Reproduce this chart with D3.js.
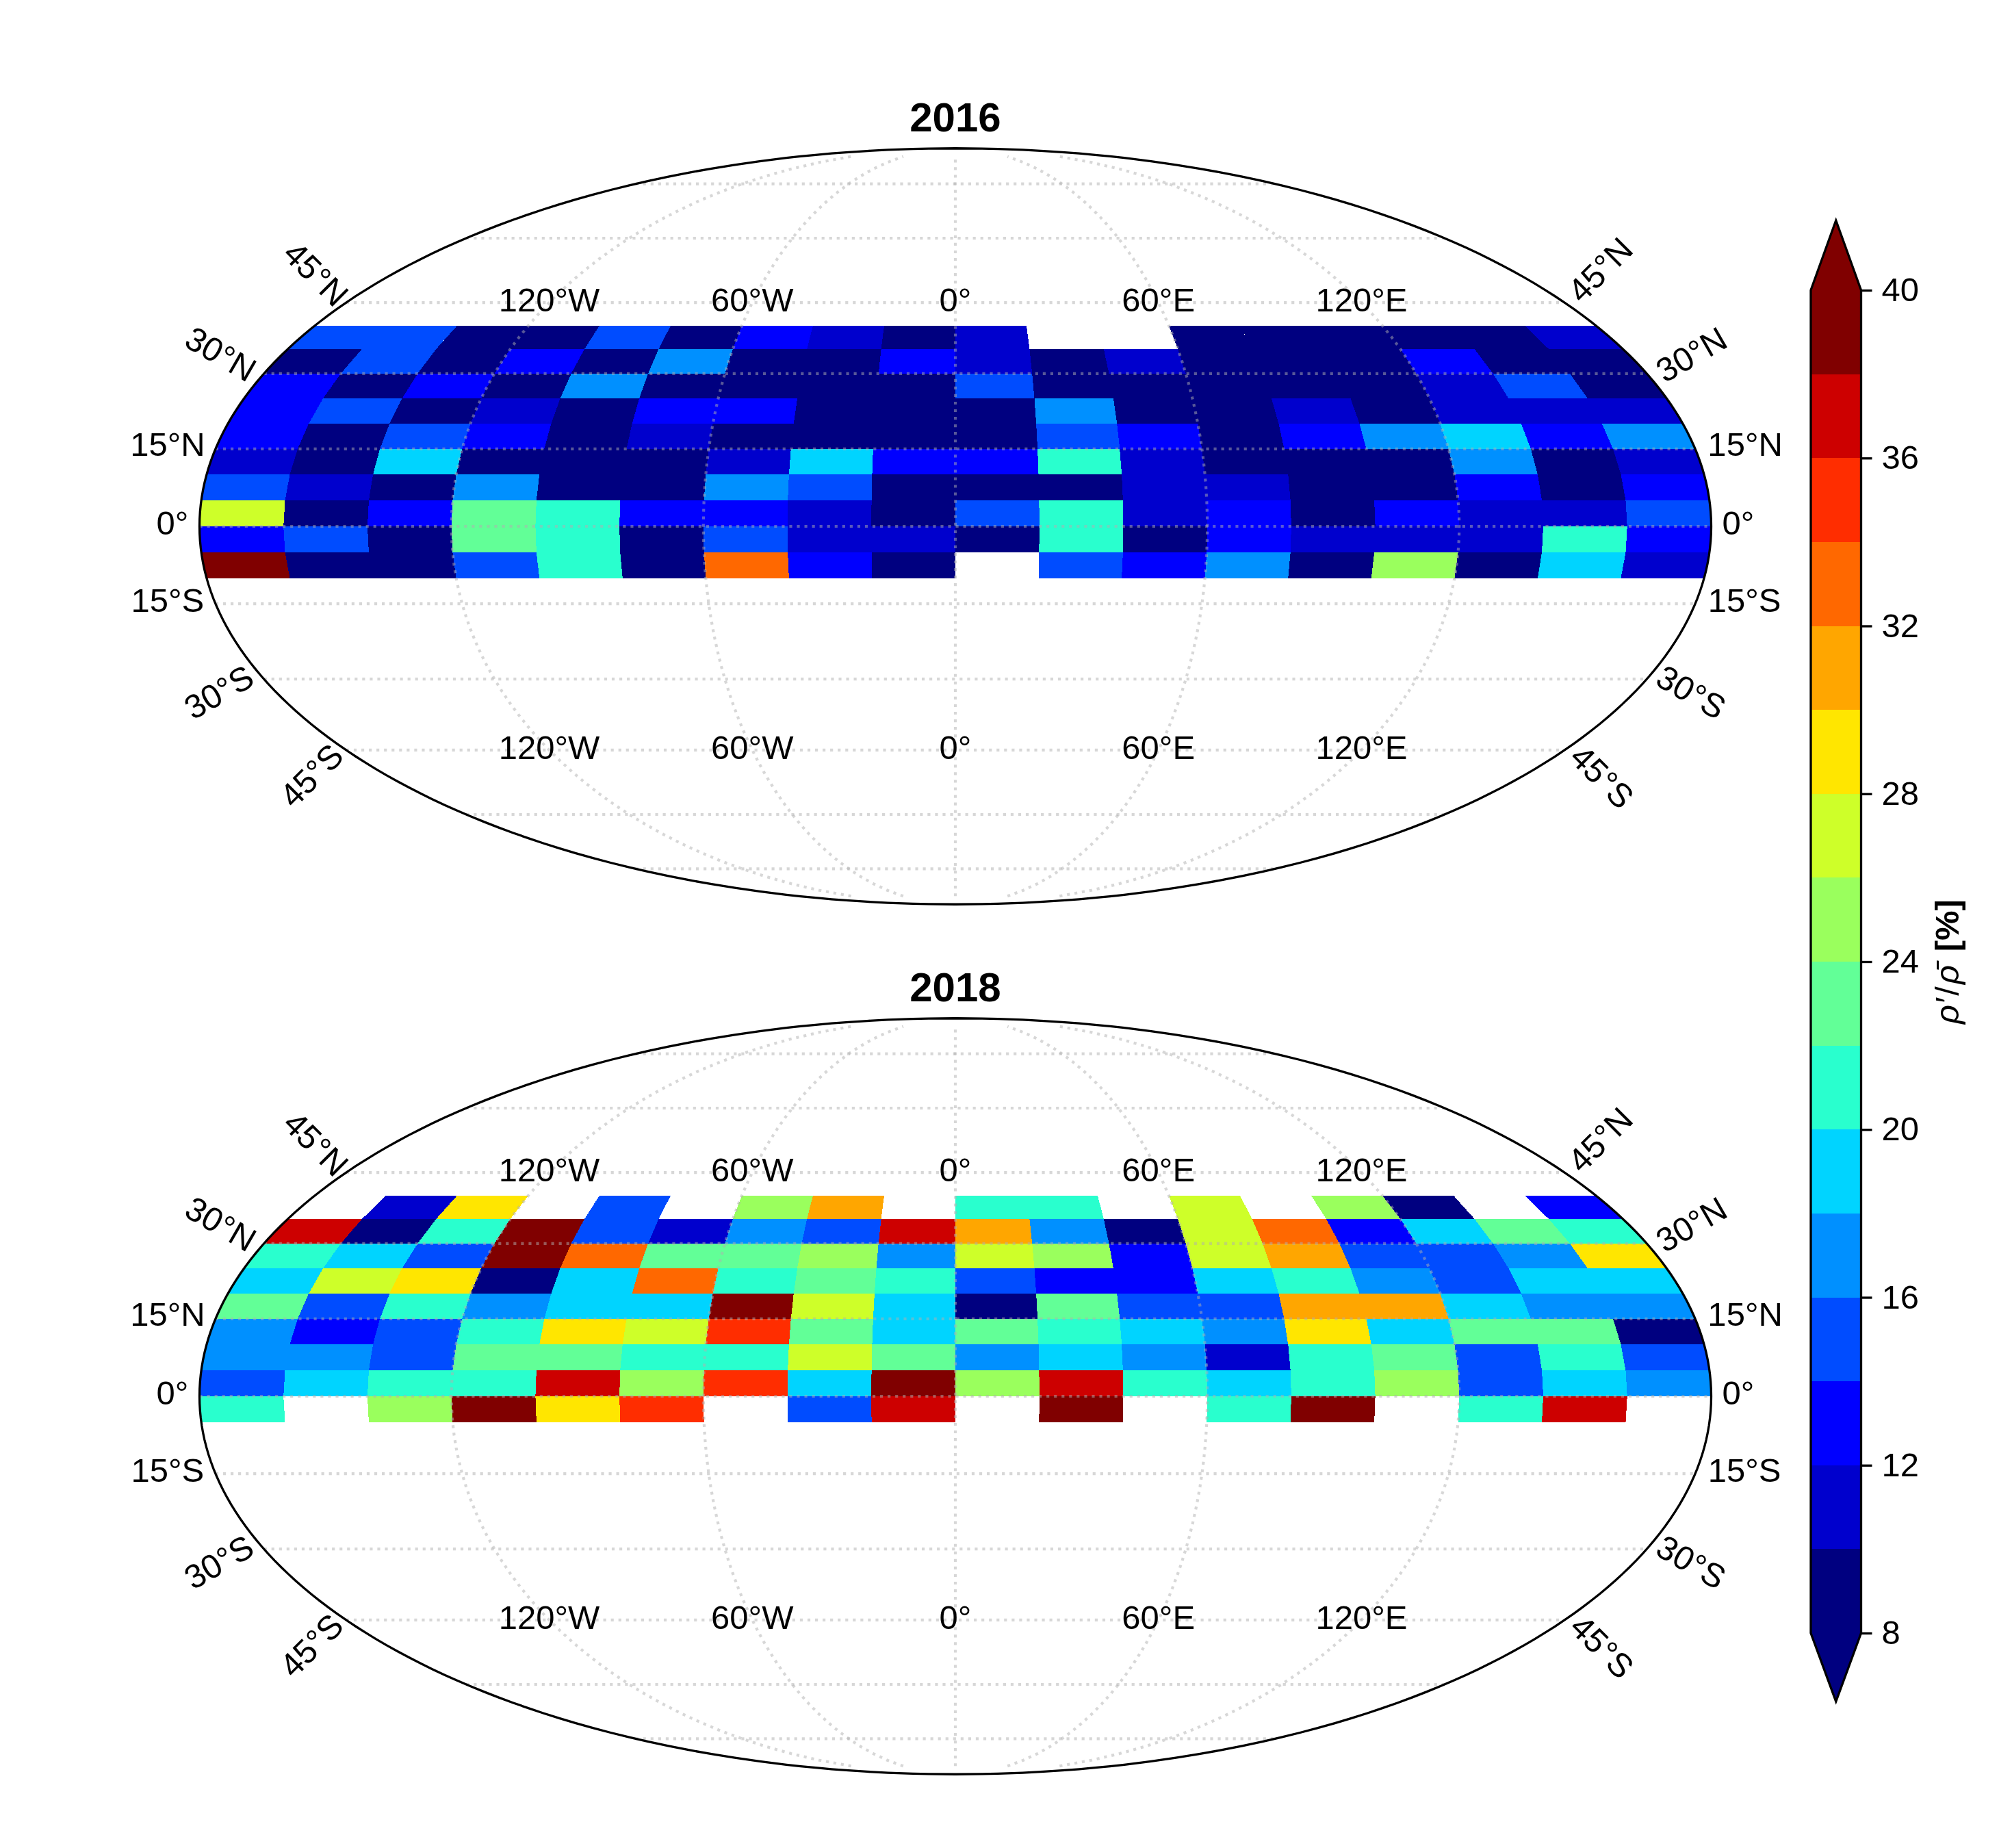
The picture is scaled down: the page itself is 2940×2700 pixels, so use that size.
<!DOCTYPE html>
<html>
<head>
<meta charset="utf-8">
<script src="https://cdn.jsdelivr.net/npm/d3@7"></script>
<style>
  body { margin: 0; background: #fff; }
  text { font-family: "Liberation Sans", Arial, sans-serif; fill: #000; }
</style>
</head>
<body>
<div id="chart"></div>
<script>
// bin edges of the grid: 20 deg wide, 5 deg tall
const lonEdges = d3.range(-180, 181, 20);
const latEdges = [40, 35, 30, 25, 20, 15, 10, 5, 0, -5, -10];

// one row per latitude band (north to south), one value per longitude bin
const values2016 = [
  [15,15,9,9,15,9,13,11,9, 11,null,null,9,9,9,9,9,11],
  [9,15,9,13,9,17,9,9,13, 11,9,11,9,9,9,13,9,9],
  [13,9,13,9,17,9,9,9,9, 15,9,9,9,9,9,11,15,9],
  [13,15,9,11,9,13,13,9,9, 9,17,9,9,11,9,11,11,11],
  [13,9,15,13,9,11,9,9,9, 9,15,13,9,13,17,19,13,17],
  [11,9,19,9,9,9,11,19,13, 13,21,11,9,9,9,17,9,11],
  [15,11,9,17,9,9,17,15,9, 9,9,11,11,9,9,13,9,13],
  [27,9,13,23,21,13,13,11,9, 15,21,11,13,9,13,11,11,15],
  [13,15,9,23,21,9,15,11,11, 9,21,9,13,11,11,11,21,13],
  [39,9,9,15,21,9,33,13,9, null,15,13,17,9,25,9,19,11]
];
const values2018 = [
  [null,11,29,null,15,null,25,31,null, 21,21,null,27,null,25,9,null,13],
  [37,9,21,39,15,11,17,15,37, 31,17,9,27,33,13,19,23,21],
  [21,19,15,39,33,23,23,25,17, 27,25,13,27,31,15,15,17,29],
  [19,27,29,9,19,33,21,23,21, 15,13,13,19,21,17,15,19,19],
  [23,15,21,17,19,19,39,27,19, 9,23,15,15,31,31,19,17,17],
  [17,13,15,21,29,27,35,23,19, 23,21,19,17,29,19,23,23,9],
  [17,17,15,23,23,21,21,27,23, 17,19,17,11,21,23,15,21,15],
  [15,19,21,21,37,25,35,19,39, 25,37,21,19,21,25,15,19,17],
  [21,null,25,39,29,35,null,15,37, null,39,null,21,39,null,21,37,null],
  [null,null,null,null,null,null,null,null,null, null,null,null,null,null,null,null,null,null]
];

const colorLevels = d3.range(8, 41, 2);
const levelColors = ['#000080','#0000cd','#0000ff','#004cff','#0090ff','#00d4ff','#29ffce','#62ff97',
                     '#9aff5d','#ceff29','#ffe600','#ffa600','#ff6800','#ff2d00','#cd0000','#800000'];
const colorTicks = [8, 12, 16, 20, 24, 28, 32, 36, 40];

const gridLats = [75, 60, 45, 30, 15, 0, -15, -30, -45, -60, -75];
const gridLons = [-120, -60, 0, 60, 120];
const labelLons = [-120, -60, 0, 60, 120];
const labelLats = [45, 30, 15, 0, -15, -30, -45];

const width = 2940, height = 2700;
const fontSize = 49;
const mapCx = 1396, mapRx = 1104.5;
const maps = [
  {title: '2016', cy: 769, values: values2016},
  {title: '2018', cy: 2040, values: values2018}
];

// label centre relative to the point where the parallel meets the map edge
const latLabelLeft = {'45': [-44,-42,45], '30': [-63,-29,30], '15': [-70,-7,0], '0': [-39.5,-5.5,0],
                      '-15': [-70,-5.5,0], '-30': [-66,19,-30], '-45': [-51,37,-45]};
const latLabelRight = {'45': [52,-48,-45], '30': [65,-28,-30], '15': [73,-7,0], '0': [39.5,-5.5,0],
                       '-15': [72,-5.5,0], '-30': [65,19,30], '-45': [55,39,45]};

const latText = d => d === 0 ? '0°' : Math.abs(d) + '°' + (d > 0 ? 'N' : 'S');
const lonText = d => d === 0 ? '0°' : Math.abs(d) + '°' + (d > 0 ? 'E' : 'W');

// mollweide, d3 only ships the hook for it
function mollweideRaw(lambda, phi) {
  let theta = phi;
  const target = Math.PI * Math.sin(phi);
  if (Math.abs(Math.abs(phi) - Math.PI / 2) > 1e-6) {
    for (let i = 0; i < 50; i++) {
      const delta = (2 * theta + Math.sin(2 * theta) - target) / (2 + 2 * Math.cos(2 * theta));
      theta -= delta;
      if (Math.abs(delta) < 1e-9) break;
    }
  }
  return [2 * Math.SQRT2 / Math.PI * lambda * Math.cos(theta), Math.SQRT2 * Math.sin(theta)];
}

const color = d3.scaleThreshold().domain(colorLevels.slice(1, -1)).range(levelColors);

const svg = d3.select('#chart').append('svg')
  .attr('width', width)
  .attr('height', height)
  .style('display', 'block')
  .style('background', '#fff');

const line = d3.line();

maps.forEach(function(m) {
  const projection = d3.geoProjection(mollweideRaw)
    .scale(mapRx / (2 * Math.SQRT2))
    .translate([mapCx, m.cy])
    .precision(0.1);
  const g = svg.append('g');

  const cells = [];
  m.values.forEach(function(row, r) {
    row.forEach(function(v, c) {
      if (v !== null) cells.push({r: r, c: c, v: v});
    });
  });

  g.append('g').selectAll('path')
    .data(cells)
    .enter().append('path')
    .attr('d', function(d) {
      const w = lonEdges[d.c], e = lonEdges[d.c + 1], n = latEdges[d.r], s = latEdges[d.r + 1];
      return line([[w, n], [e, n], [e, s], [w, s]].map(projection)) + 'Z';
    })
    .attr('fill', d => color(d.v))
    .attr('shape-rendering', 'crispEdges');

  const grid = g.append('g')
    .attr('fill', 'none')
    .attr('stroke', '#b0b0b0')
    .attr('stroke-opacity', 0.5)
    .attr('stroke-width', 4.17)
    .attr('stroke-dasharray', '4.17 6.88');

  grid.selectAll('path.lat')
    .data(gridLats)
    .enter().append('path')
    .attr('class', 'lat')
    .attr('d', d => line([projection([-180, d]), projection([180, d])]));

  grid.selectAll('path.lon')
    .data(gridLons)
    .enter().append('path')
    .attr('class', 'lon')
    .attr('d', d => line(d3.range(-85, 85.5, 2.5).map(p => projection([d, p]))));

  g.append('path')
    .datum({type: 'Sphere'})
    .attr('d', d3.geoPath(projection))
    .attr('fill', 'none')
    .attr('stroke', '#000')
    .attr('stroke-width', 3.3);

  // longitude labels sit on the 45 deg parallels
  [45, -45].forEach(function(lat) {
    g.append('g').selectAll('text')
      .data(labelLons)
      .enter().append('text')
      .attr('x', d => projection([d, lat])[0])
      .attr('y', d => projection([d, lat])[1] + 13)
      .attr('text-anchor', 'middle')
      .style('font-size', fontSize + 'px')
      .text(lonText);
  });

  // latitude labels, turned along the edge of the map
  [[-180, latLabelLeft], [180, latLabelRight]].forEach(function(side) {
    g.append('g').selectAll('text')
      .data(labelLats)
      .enter().append('text')
      .attr('transform', function(d) {
        const p = projection([side[0], d]), o = side[1][d];
        return 'translate(' + (p[0] + o[0]) + ',' + (p[1] + o[1]) + ') rotate(' + o[2] + ')';
      })
      .attr('dy', '.35em')
      .attr('text-anchor', 'middle')
      .style('font-size', fontSize + 'px')
      .text(latText);
  });

  g.append('text')
    .attr('x', mapCx)
    .attr('y', m.cy - 577)
    .attr('text-anchor', 'middle')
    .style('font-size', '60px')
    .style('font-weight', 'bold')
    .text(m.title);
});

// colorbar
const barLeft = 2646, barRight = 2719.5, barTipTop = 322, barTipBottom = 2486;
const barScale = d3.scaleLinear().domain([8, 40]).range([2386, 424]);
const barMid = (barLeft + barRight) / 2;
const bar = svg.append('g');

bar.selectAll('rect')
  .data(levelColors)
  .enter().append('rect')
  .attr('x', barLeft)
  .attr('width', barRight - barLeft)
  .attr('y', (d, i) => barScale(colorLevels[i + 1]))
  .attr('height', (d, i) => barScale(colorLevels[i]) - barScale(colorLevels[i + 1]))
  .attr('fill', d => d)
  .attr('shape-rendering', 'crispEdges');

bar.append('path')
  .attr('d', line([[barLeft, barScale(40)], [barMid, barTipTop], [barRight, barScale(40)]]) + 'Z')
  .attr('fill', levelColors[levelColors.length - 1]);
bar.append('path')
  .attr('d', line([[barLeft, barScale(8)], [barMid, barTipBottom], [barRight, barScale(8)]]) + 'Z')
  .attr('fill', levelColors[0]);

bar.append('path')
  .attr('d', line([[barLeft, barScale(40)], [barMid, barTipTop], [barRight, barScale(40)],
                   [barRight, barScale(8)], [barMid, barTipBottom], [barLeft, barScale(8)]]) + 'Z')
  .attr('fill', 'none')
  .attr('stroke', '#000')
  .attr('stroke-width', 3.3);

const barAxis = bar.append('g')
  .attr('transform', 'translate(' + barRight + ',0)')
  .call(d3.axisRight(barScale).tickValues(colorTicks).tickSize(16).tickPadding(14));
barAxis.select('.domain').remove();
barAxis.selectAll('line').attr('stroke', '#000').attr('stroke-width', 3.3);
barAxis.selectAll('text').attr('font-family', null).style('font-size', fontSize + 'px');

const barLabel = svg.append('text')
  .attr('transform', 'translate(2862,1405) rotate(-90)')
  .attr('text-anchor', 'middle')
  .style('font-size', fontSize + 'px');
barLabel.append('tspan').style('font-style', 'italic').text('ρ′');
barLabel.append('tspan').attr('dx', 4).text('/');
barLabel.append('tspan').attr('dx', 3).style('font-style', 'italic').text('ρ\u0304');
barLabel.append('tspan').attr('dx', 6).style('font-weight', 'bold').text(' [%]');
</script>
</body>
</html>
